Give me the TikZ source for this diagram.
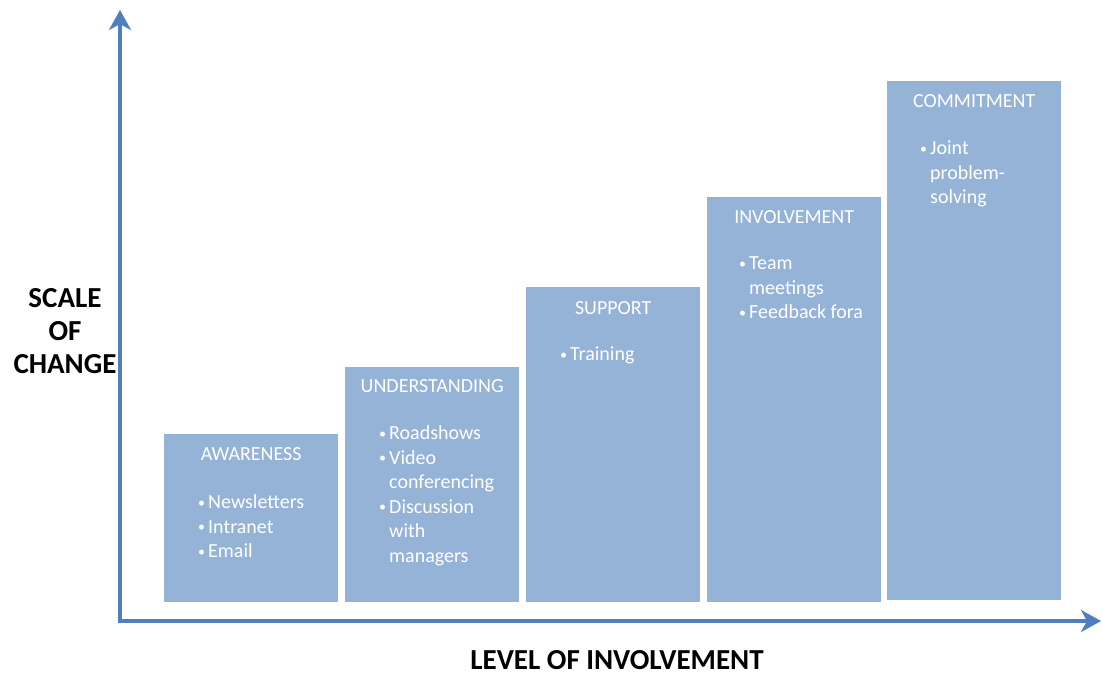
\documentclass[tikz,border=0pt]{standalone}
\usepackage{fontspec}
\setmainfont{Carlito}
\usetikzlibrary{arrows.meta}
\definecolor{barblue}{HTML}{95B3D7}
\definecolor{axisblue}{HTML}{4F7FBC}
\tikzset{
  bar/.style={fill=barblue, draw=none, minimum width=174pt, inner sep=0pt, anchor=south west},
  bartitle/.style={text=white, font=\fontsize{20}{24.5}\selectfont, inner sep=0pt},
  barlist/.style={text=white, font=\fontsize{20}{24.5}\selectfont, align=left, inner sep=0pt, anchor=north west},
  axis/.style={axisblue, line width=4pt, -{Stealth[length=20pt,width=22pt,inset=6pt]}},
  axislabel/.style={font=\fontsize{29}{33}\selectfont\bfseries, align=center, inner sep=0pt}
}
\newcommand{\bitem}[1]{\makebox[10pt][l]{\raisebox{1.5pt}{\fontsize{14}{14}\selectfont•}}#1}
\newcommand{\bmore}[1]{\hspace*{10pt}#1}
\begin{document}
\begin{tikzpicture}[x=1pt,y=-1pt]
  \useasboundingbox (0,0) rectangle (1103,675);
  % axes
  \coordinate (origin) at (120,621);
  \coordinate (ytip) at (120,10);
  \coordinate (xtip) at (1101,621);
  \draw[axis] ([yshift=-2pt]origin) -- (ytip);
  \draw[axis] ([xshift=-2pt]origin) -- (xtip);
  \node[axislabel] (scale) at (65,331) {SCALE\\OF\\CHANGE};
  \node[axislabel] (level) at (617,660) {LEVEL OF INVOLVEMENT};
  % bars
  \node[bar, minimum height=168pt] (aware) at (164,602) {};
  \node[bar, minimum height=235pt] (under) at (345,602) {};
  \node[bar, minimum height=315pt] (support) at (526,602) {};
  \node[bar, minimum height=405pt] (involve) at (707,602) {};
  \node[bar, minimum height=519pt] (commit) at (887,600) {};
  % titles
  \node[bartitle] (awaret) at ([yshift=-20pt]aware.north) {AWARENESS};
  \node[bartitle] (undert) at ([yshift=-19pt]under.north) {UNDERSTANDING};
  \node[bartitle] (supportt) at ([yshift=-21pt]support.north) {SUPPORT};
  \node[bartitle] (involvet) at ([yshift=-20pt]involve.north) {INVOLVEMENT};
  \node[bartitle] (committ) at ([yshift=-20pt]commit.north) {COMMITMENT};
  % bullet lists
  \node[barlist] (awarel) at ([xshift=34pt,yshift=-61pt]aware.north west)
    {\bitem{Newsletters}\\\bitem{Intranet}\\\bitem{Email}};
  \node[barlist] (underl) at ([xshift=34pt,yshift=-59pt]under.north west)
    {\bitem{Roadshows}\\\bitem{Video}\\\bmore{conferencing}\\\bitem{Discussion}\\\bmore{with}\\\bmore{managers}};
  \node[barlist] (supportl) at ([xshift=34pt,yshift=-60pt]support.north west)
    {\bitem{Training}};
  \node[barlist] (involvel) at ([xshift=32pt,yshift=-60pt]involve.north west)
    {\bitem{Team}\\\bmore{meetings}\\\bitem{Feedback fora}};
  \node[barlist] (commitl) at ([xshift=33pt,yshift=-60pt]commit.north west)
    {\bitem{Joint}\\\bmore{problem-}\\\bmore{solving}};
\end{tikzpicture}
\end{document}
